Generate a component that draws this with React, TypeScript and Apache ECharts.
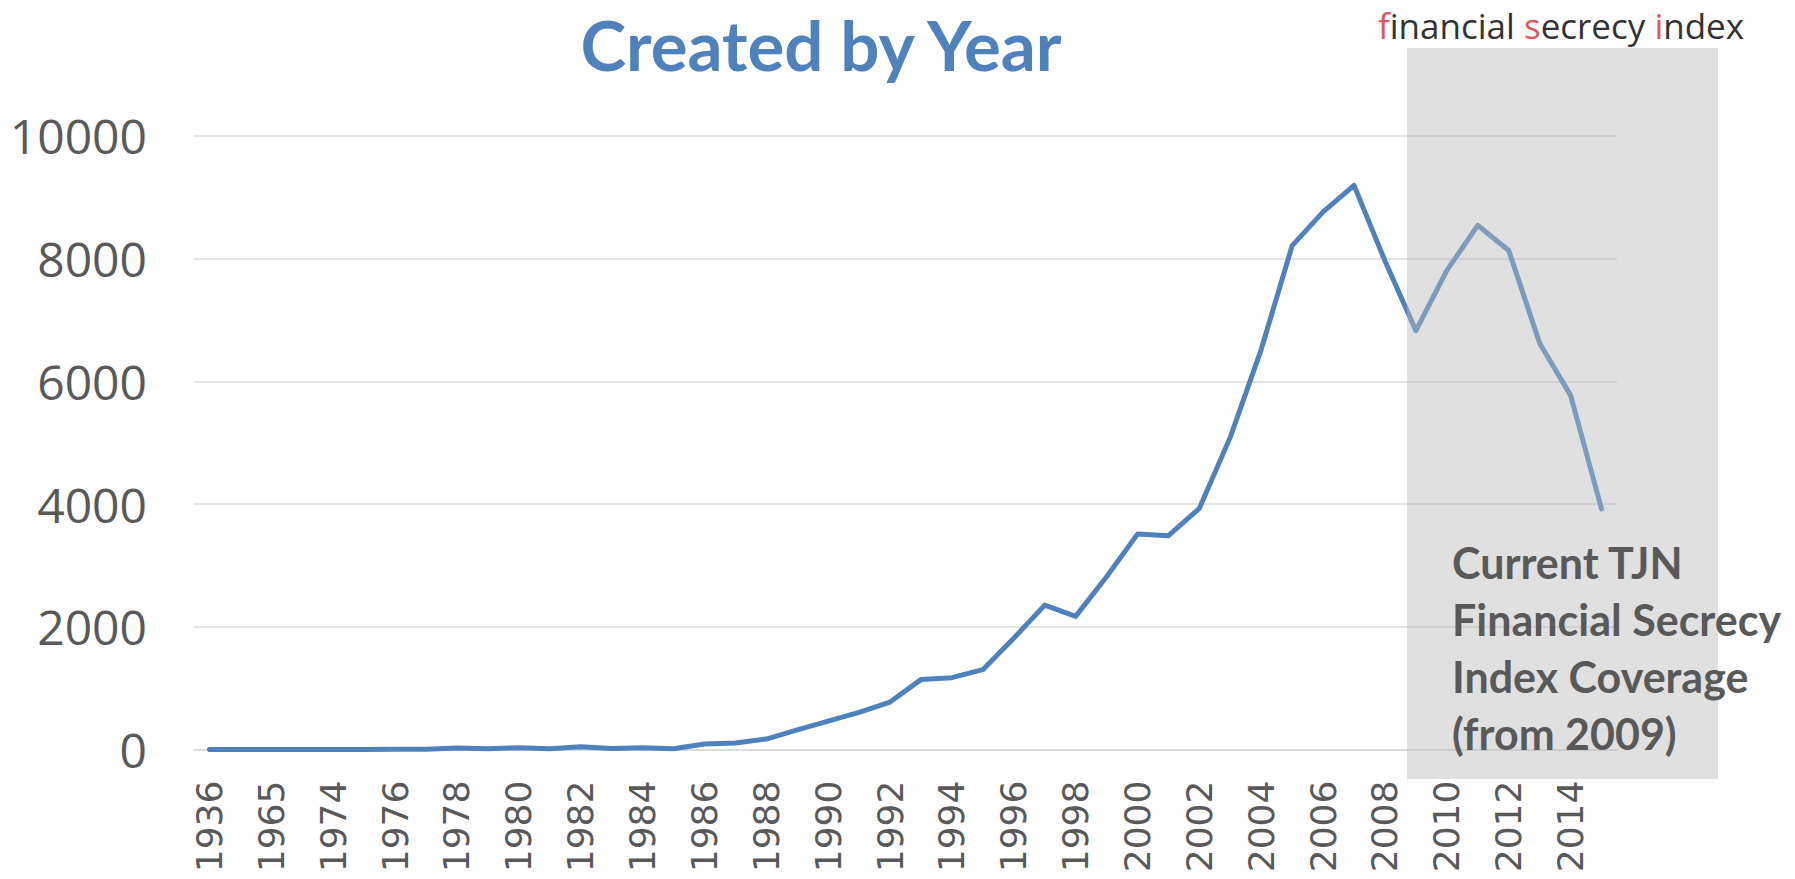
import React, { useEffect, useRef } from "react";
import * as echarts from "echarts";

const years: string[] = [
  "1936", "1955", "1965", "1970", "1974", "1975", "1976", "1977", "1978", "1979",
  "1980", "1981", "1982", "1983", "1984", "1985", "1986", "1987", "1988", "1989",
  "1990", "1991", "1992", "1993", "1994", "1995", "1996", "1997", "1998", "1999",
  "2000", "2001", "2002", "2003", "2004", "2005", "2006", "2007", "2008", "2009",
  "2010", "2011", "2012", "2013", "2014", "2015",
];

const created: number[] = [
  1, 1, 1, 2, 2, 3, 4, 6, 25, 15,
  30, 12, 48, 16, 32, 15, 90, 108, 172, 320,
  465, 605, 775, 1140, 1172, 1302, 1815, 2353, 2170, 2815,
  3510, 3484, 3930, 5090, 6520, 8210, 8760, 9190, 7960, 6825,
  7805, 8540, 8130, 6620, 5770, 3920,
];

const yTicks = { min: 0, max: 10000, interval: 2000 };
const titleText = "Created by Year";
const coverageLines: string[] = ["Current TJN", "Financial Secrecy", "Index Coverage", "(from 2009)"];

export default function App() {
  const ref = useRef<HTMLDivElement>(null);
  useEffect(() => {
    if (!ref.current) return;
    const chart = echarts.init(ref.current, undefined, { renderer: "svg" });
    const textEls = coverageLines.map((t, i) => ({
      type: "text",
      z: 200,
      x: 1452,
      y: 562 + i * 57,
      style: {
        text: t,
        font: "bold 43px Lato",
        fill: "#595959",
        verticalAlign: "middle",
        align: "left",
      },
    }));
    chart.setOption({
      animation: false,
      backgroundColor: "#ffffff",
      grid: {
        left: 194,
        right: 178,
        top: 135.7,
        bottom: 129.4,
        containLabel: false,
        outerBoundsMode: "none",
      },
      xAxis: {
        type: "category",
        data: years,
        boundaryGap: true,
        axisLine: { show: true, lineStyle: { color: "#d9d9d9", width: 1.5 } },
        axisTick: { show: false },
        axisLabel: {
          interval: 1,
          rotate: 90,
          margin: 31,
          color: "#595959",
          fontFamily: "DejaVu Sans",
          fontSize: 36,
        },
        splitLine: { show: false },
      },
      yAxis: {
        type: "value",
        min: yTicks.min,
        max: yTicks.max,
        interval: yTicks.interval,
        axisLine: { show: false },
        axisTick: { show: false },
        axisLabel: {
          margin: 47,
          color: "#595959",
          fontFamily: "Open Sans",
          fontSize: 48,
          formatter: (v: number) => String(v),
        },
        splitLine: { show: true, lineStyle: { color: "#d9d9d9", width: 1.5 } },
      },
      series: [
        {
          type: "line",
          data: created,
          symbol: "none",
          lineStyle: { color: "#4f81bd", width: 5, cap: "round", join: "round" },
          z: 2,
        },
      ],
      graphic: [
        {
          type: "text",
          z: 200,
          x: 821,
          y: 44,
          style: {
            text: titleText,
            font: "bold 69px Lato",
            fill: "#4f81bd",
            align: "center",
            verticalAlign: "middle",
          },
        },
        {
          type: "rect",
          z: 100,
          shape: { x: 1407, y: 48, width: 311, height: 731 },
          style: { fill: "rgba(186,186,186,0.45)" },
        },
        {
          type: "text",
          z: 200,
          x: 1378,
          y: 25,
          style: {
            text: "{r|f}{d|inancial }{r|s}{d|ecrecy }{r|i}{d|ndex}",
            align: "left",
            verticalAlign: "middle",
            rich: {
              r: { fontFamily: "Open Sans", fontSize: 35, fill: "#e0565a", color: "#e0565a" },
              d: { fontFamily: "Open Sans", fontSize: 35, fill: "#333333", color: "#333333" },
            },
          },
        },
        ...textEls,
      ],
    });
    return () => chart.dispose();
  }, []);
  return (
    <div
      ref={ref}
      style={{ position: "absolute", left: 0, top: 0, width: 1795, height: 879 }}
    />
  );
}
